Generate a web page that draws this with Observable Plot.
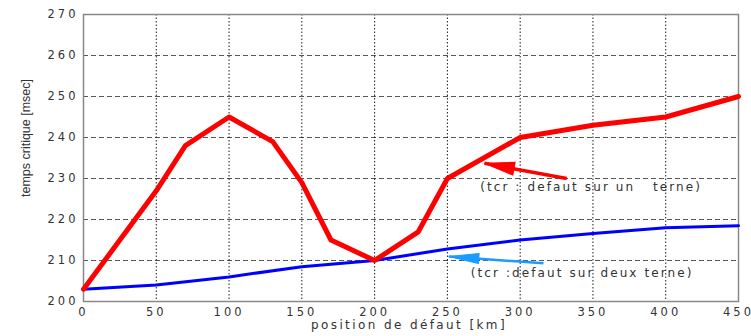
<!DOCTYPE html>
<html><head><meta charset="utf-8">
<script src="https://cdn.jsdelivr.net/npm/d3@7"></script>
<script src="https://cdn.jsdelivr.net/npm/@observablehq/plot@0.6"></script>
<style>
body{margin:0;background:#fff;}
svg text{letter-spacing:3px;}
</style>
</head><body>
<div id="chart"></div>
<script>
const xTicks = [0,50,100,150,200,250,300,350,400,450];
const yTicks = [200,210,220,230,240,250,260,270];
const redX = [0,50,70,100,130,150,170,200,230,250,300,350,400,450];
const redY = [203,227,238,245,239,229,215,210,217,230,240,243,245,250];
const blueX = [0,50,100,150,200,250,300,350,400,450];
const blueY = [203,204,206,208.5,210,212.8,215,216.6,218,218.5];
const arrowsRed = [{x1:332, y1:230, x2:275.5, y2:233.7}];
const arrowsBlue = [{x1:316, y1:209.3, x2:251, y2:211}];
const xLabel = "position de défaut [km]";
const yLabel = "temps critique [msec]";
const notes = [
  {x:272.5, y:228, text:"(tcr : defaut sur un   terne)"},
  {x:266, y:207, text:"(tcr :defaut sur deux terne)"}
];

const red = redX.map((x,i)=>({x, y:redY[i]}));
const blue = blueX.map((x,i)=>({x, y:blueY[i]}));

function headShape(w){
  return {draw(context, l){
    context.moveTo(0, -l);
    context.lineTo(w/2, 0);
    context.lineTo(-w/2, 0);
    context.closePath();
  }};
}
function headMarks(arr, color, angle, len, w){
  const pts = arr.map(a=>({x:a.x2, y:a.y2}));
  try {
    return Plot.vector(pts, {x:"x", y:"y", length:len, rotate:angle, anchor:"end", shape:headShape(w), fill:color, stroke:color, strokeWidth:1});
  } catch(e) {
    const back = arr.map(a=>({x:a.x2+(a.x1-a.x2)*0.12, y:a.y2+(a.y1-a.y2)*0.12}));
    return Plot.dot(back, {x:"x", y:"y", symbol:"triangle", r:6, fill:color, stroke:null, rotate:angle});
  }
}

const chart = Plot.plot({
  width:751, height:336,
  marginLeft:83, marginRight:13, marginTop:14, marginBottom:35,
  style:{fontFamily:"'DejaVu Sans', sans-serif", fontSize:"11.5px", color:"#333", background:"#fff"},
  x:{domain:[0,450], ticks:xTicks, tickSize:0, tickPadding:6, label:null},
  y:{domain:[200,270], ticks:yTicks, tickSize:0, tickPadding:5, label:null},
  marks:[
    Plot.gridY(yTicks, {stroke:"#444", strokeOpacity:0.9, strokeDasharray:"5,3"}),
    Plot.gridX(xTicks, {stroke:"#000", strokeOpacity:0.9, strokeDasharray:"1.5,2"}),
    Plot.frame({stroke:"#888", strokeWidth:1.5}),
    Plot.line(blue, {x:"x", y:"y", stroke:"#0000ff", strokeWidth:3}),
    Plot.line(red, {x:"x", y:"y", stroke:"#ff0000", strokeWidth:5}),
    Plot.link(arrowsRed, {x1:"x1", y1:"y1", x2:"x2", y2:"y2", stroke:"#ff0000", strokeWidth:3.5}),
    headMarks(arrowsRed, "#ff0000", -79.6, 30, 13),
    Plot.link(arrowsBlue, {x1:"x1", y1:"y1", x2:"x2", y2:"y2", stroke:"#1a9bff", strokeWidth:2.5}),
    headMarks(arrowsBlue, "#1a9bff", -85.8, 30, 10),
    Plot.text(notes, {x:"x", y:"y", text:"text", textAnchor:"start", fill:"#333", fontSize:12}),
    Plot.text([xLabel], {frameAnchor:"bottom", textAnchor:"middle", dx:-2, dy:27, fill:"#333", fontSize:12}),
    Plot.text([yLabel], {frameAnchor:"left", textAnchor:"middle", dx:-58, dy:-20, rotate:-90, fill:"#333", fontSize:12.5, fontFamily:"'Liberation Sans Narrow', 'Liberation Sans', sans-serif"})
  ]
});
// per-text letter spacing
const noteTexts = notes.map(n=>n.text);
chart.querySelectorAll("text").forEach(t=>{
  const s = t.textContent;
  if (s === yLabel) { t.style.letterSpacing = "0px"; }
  else if (s === xLabel) { t.style.letterSpacing = "2.4px"; }
  else if (noteTexts.includes(s)) { t.style.letterSpacing = "2.1px"; }
});
document.getElementById("chart").appendChild(chart);
</script>
</body></html>
